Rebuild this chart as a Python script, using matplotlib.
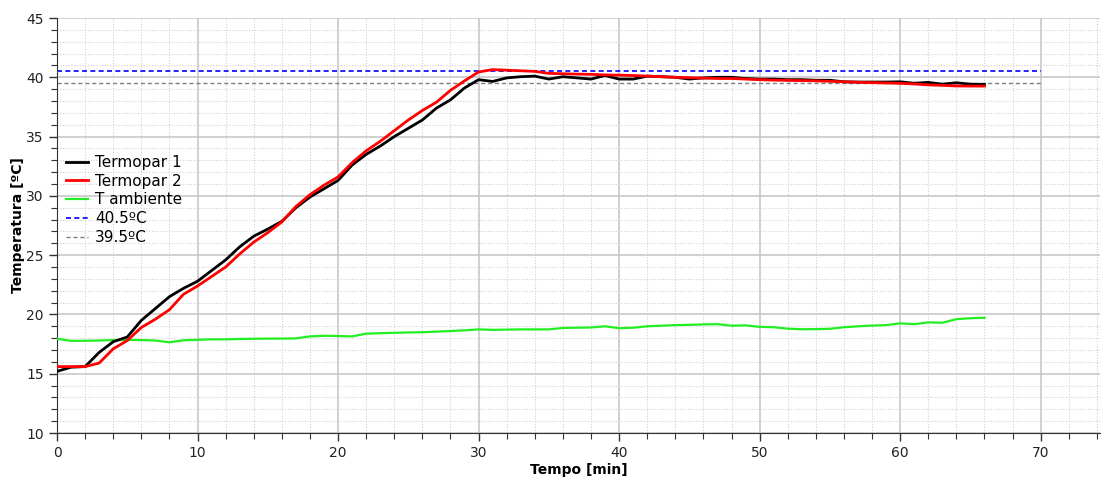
import numpy as np
import matplotlib
matplotlib.use("Agg")
import matplotlib.pyplot as plt
from matplotlib.ticker import MultipleLocator

# tiempo en minutos
tempo = list(range(0, 67))

termopar1 = [15.2, 15.55, 15.6, 16.8, 17.7, 18.1, 19.5, 20.5, 21.5, 22.2,
             22.8, 23.7, 24.6, 25.7, 26.6, 27.2, 27.85, 29.0, 29.9, 30.6,
             31.3, 32.6, 33.5, 34.2, 35.0, 35.7, 36.4, 37.4, 38.1, 39.1,
             39.8, 39.65, 39.95, 40.05, 40.1, 39.85, 40.05, 39.95, 39.85, 40.15,
             39.85, 39.85, 40.1, 40.05, 40.0, 39.85, 39.95, 40.0, 40.0, 39.9,
             39.85, 39.85, 39.8, 39.8, 39.75, 39.75, 39.62, 39.6, 39.6, 39.6,
             39.62, 39.5, 39.57, 39.42, 39.54, 39.42, 39.4]

termopar2 = [15.6, 15.6, 15.6, 15.9, 17.1, 17.8, 18.9, 19.6, 20.4, 21.7,
             22.4, 23.2, 24.0, 25.1, 26.1, 26.9, 27.8, 29.1, 30.1, 30.9,
             31.6, 32.8, 33.8, 34.6, 35.5, 36.4, 37.2, 37.9, 38.9, 39.7,
             40.45, 40.65, 40.6, 40.55, 40.5, 40.33, 40.3, 40.27, 40.25, 40.2,
             40.18, 40.15, 40.1, 40.05, 40.0, 39.97, 39.93, 39.9, 39.9, 39.85,
             39.8, 39.76, 39.74, 39.72, 39.7, 39.66, 39.62, 39.58, 39.55, 39.52,
             39.49, 39.44, 39.36, 39.32, 39.27, 39.26, 39.26]

t_ambiente = [17.95, 17.77, 17.78, 17.8, 17.84, 17.85, 17.84, 17.8, 17.65, 17.82,
              17.86, 17.9, 17.9, 17.93, 17.95, 17.96, 17.96, 17.98, 18.15, 18.2,
              18.18, 18.15, 18.38, 18.42, 18.45, 18.48, 18.5, 18.55, 18.6, 18.66,
              18.74, 18.7, 18.72, 18.74, 18.74, 18.74, 18.86, 18.88, 18.9, 19.0,
              18.84, 18.88, 19.0, 19.05, 19.1, 19.12, 19.16, 19.18, 19.05, 19.08,
              18.95, 18.92, 18.8, 18.75, 18.76, 18.79, 18.92, 19.0, 19.06, 19.1,
              19.25, 19.18, 19.33, 19.3, 19.6, 19.68, 19.72]

# limites de referencia
ref_x = [0, 70]
ref_alta = 40.5
ref_baixa = 39.5

fig = plt.figure(figsize=(11.03, 4.83), dpi=100)
ax = fig.add_axes([0.0517, 0.1035, 0.9453, 0.8592])

ax.plot(tempo, termopar1, color="black", lw=2, label="Termopar 1", zorder=4)
ax.plot(tempo, termopar2, color="#ff0000", lw=2, label="Termopar 2", zorder=5)
ax.plot(tempo, t_ambiente, color="#22ee22", lw=1.6, label="T ambiente", zorder=3)
ax.plot(ref_x, [ref_alta, ref_alta], color="#0000ff", lw=1.2, ls=(0, (3, 2)),
        label="40.5ºC", zorder=2)
ax.plot(ref_x, [ref_baixa, ref_baixa], color="#808080", lw=1.0, ls=(0, (3, 2)),
        label="39.5ºC", zorder=2)

ax.set_xlim(0, 74.2)
ax.set_ylim(10, 45)
ax.xaxis.set_major_locator(MultipleLocator(10))
ax.xaxis.set_minor_locator(MultipleLocator(2))
ax.yaxis.set_major_locator(MultipleLocator(5))
ax.yaxis.set_minor_locator(MultipleLocator(1))

ax.grid(which="major", color="#c4c4c4", lw=1.1, ls="-")
ax.grid(which="minor", color="#d2d2d2", lw=0.8, ls=(0, (1, 1.5)))
ax.set_axisbelow(True)
# sin linea de rejilla en el borde superior
ax.yaxis.get_gridlines()[-1].set_visible(False)

for s in ["top", "right"]:
    ax.spines[s].set_visible(False)
ax.spines["left"].set_color("#333333")
ax.spines["bottom"].set_color("#333333")
ax.tick_params(which="major", direction="out", length=6, width=1, labelsize=10,
               colors="#333333", labelcolor="#222222")
ax.tick_params(which="minor", direction="out", length=4, width=0.8, colors="#333333")

ax.set_xlabel("Tempo [min]", fontsize=10, fontweight="bold", labelpad=2)
ax.set_ylabel("Temperatura [ºC]", fontsize=10, fontweight="bold", labelpad=1)

ax.legend(loc="upper left", bbox_to_anchor=(0.003, 0.685), frameon=False,
          fontsize=11, handlelength=1.4, handletextpad=0.5, labelspacing=0.25,
          borderaxespad=0)

fig.savefig("out.png", dpi=100)
